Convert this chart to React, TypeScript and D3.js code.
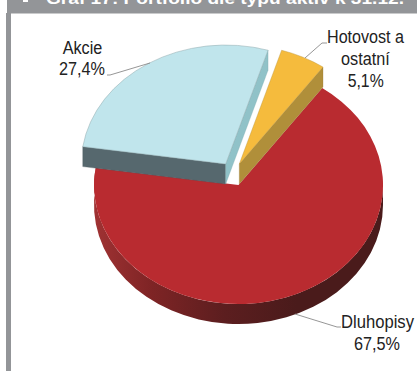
import React from "react";
import * as d3 from "d3";

const categories = ["Dluhopisy", "Akcie", "Hotovost a", "ostatní"];
const shares = [67.5, 27.4, 5.1];
const shareLabels = ["67,5%", "27,4%", "5,1%"];
const heading = "Graf 17: Portfolio dle typu aktiv k 31.12.";

const W = 417;
const H = 371;
const cx = 238.5;
const cy = 185;
const rx = 144.5;
const ry = 119;
const depth = 20;
const firstAngle = (35.4 * Math.PI) / 180;

// Per-slice pull-out and face colours (top, radial wall, second radial wall)
const offsets = [
  [0, 0],
  [-12.8, -21],
  [0.8, -21],
];
const topFill = ["#b92b30", "#c0e5ec", "#f5bb3d"];
const wallFill = ["#7a2224", "#56686e", "#b08f3a"];
const innerWallFill = ["#7a2224", "#90c2c8", "#b08f3a"];

const slices = d3
  .pie<number>()
  .sort(null)
  .startAngle(firstAngle)
  .endAngle(firstAngle + 2 * Math.PI)(shares);

const unitArc = d3.arc<d3.PieArcDatum<number>>().innerRadius(0).outerRadius(1);

const rim = (a: number, ox: number, oy: number, dy = 0): [number, number] => [
  cx + ox + rx * Math.sin(a),
  cy + oy - ry * Math.cos(a) + dy,
];

const wall = (a: number, ox: number, oy: number) => {
  const p = rim(a, ox, oy);
  const ax = cx + ox;
  const ay = cy + oy;
  return `M${ax},${ay}L${p[0]},${p[1]}L${p[0]},${p[1] + depth}L${ax},${ay + depth}Z`;
};

// Outer skirt of the large slice, from the right-hand extreme round to its end
const skirt = (a0: number, a1: number, ox: number, oy: number) => {
  const s = rim(a0, ox, oy);
  const e = rim(a1, ox, oy);
  const large = a1 - a0 > Math.PI ? 1 : 0;
  return (
    `M${s[0]},${s[1]}A${rx},${ry} 0 ${large} 1 ${e[0]},${e[1]}` +
    `L${e[0]},${e[1] + depth}A${rx},${ry} 0 ${large} 0 ${s[0]},${s[1] + depth}Z`
  );
};

const sectorPath = (i: number) => unitArc(slices[i]) as string;

const labelFont = "'Liberation Sans', Arial, sans-serif";

// Label lines are set tall and slightly narrowed to a fixed measure
const Label = ({ x, y, w, children }: { x: number; y: number; w: number; children: string }) => (
  <text x={x} y={y} textLength={w} lengthAdjust="spacingAndGlyphs">
    {children}
  </text>
);

export default function App() {
  const red = slices[0];
  return (
    <svg
      width={W}
      height={H}
      viewBox={`0 0 ${W} ${H}`}
      style={{ position: "fixed", left: 0, top: 0, background: "#fff" }}
    >
      <defs>
        <linearGradient id="skirtShade" gradientUnits="userSpaceOnUse" x1={94} x2={383} y1={0} y2={0}>
          <stop offset="0" stopColor="#a03233" />
          <stop offset="0.2" stopColor="#7e2425" />
          <stop offset="0.45" stopColor="#5c1e1f" />
          <stop offset="0.7" stopColor="#4a1b1b" />
          <stop offset="1" stopColor="#4a1b1b" />
        </linearGradient>
      </defs>

      <rect x={7} y={0} width={W - 7} height={13.5} fill="#939598" />
      <rect x={6} y={13} width={5} height={H - 13} fill="#939598" />
      <rect x={23} y={0} width={5} height={2} fill="#fff" />
      <text
        x={46}
        y={4}
        fontFamily={labelFont}
        fontWeight="bold"
        fontSize={17}
        fill="#fff"
        textLength={358}
        lengthAdjust="spacingAndGlyphs"
      >
        {heading}
      </text>

      {/* Large slice: skirt first, then its top face */}
      <path d={skirt(Math.PI / 2, red.endAngle, 0, 0)} fill="url(#skirtShade)" />
      <path
        d={sectorPath(0)}
        transform={`translate(${cx},${cy}) scale(${rx},${ry})`}
        fill={topFill[0]}
      />

      {/* Pulled-out slices with their visible radial walls */}
      <path d={wall(slices[1].startAngle, offsets[1][0], offsets[1][1])} fill={wallFill[1]} stroke="#46565b" strokeWidth={0.3} />
      <path d={wall(slices[1].endAngle, offsets[1][0], offsets[1][1])} fill={innerWallFill[1]} stroke="#7fa9ae" strokeWidth={0.3} />
      <path
        d={sectorPath(1)}
        transform={`translate(${cx + offsets[1][0]},${cy + offsets[1][1]}) scale(${rx},${ry})`}
        fill={topFill[1]}
        stroke="#8fa9ad"
        strokeWidth={0.5}
        vectorEffect="non-scaling-stroke"
      />
      <path d={wall(slices[2].endAngle, offsets[2][0], offsets[2][1])} fill={wallFill[2]} stroke="#947831" strokeWidth={0.3} />
      <path
        d={sectorPath(2)}
        transform={`translate(${cx + offsets[2][0]},${cy + offsets[2][1]}) scale(${rx},${ry})`}
        fill={topFill[2]}
        stroke="#b8923a"
        strokeWidth={0.4}
        vectorEffect="non-scaling-stroke"
      />

      {/* Leader lines */}
      <g fill="none" stroke="#8a8a8a" strokeWidth={0.9}>
        <polyline points="107,75 110,75 150,63" />
        <polyline points="327,43 322,43 305,58" />
        <polyline points="295,314 337,327 341,327" />
      </g>

      {/* Data labels */}
      <g fontFamily={labelFont} fontSize={17.5} fill="#222">
        <Label x={62.7} y={53.5} w={39.6}>{categories[1]}</Label>
        <Label x={59} y={75} w={46}>{shareLabels[1]}</Label>
        <Label x={327} y={43} w={77}>{categories[2]}</Label>
        <Label x={341} y={64.5} w={48.7}>{categories[3]}</Label>
        <Label x={347.7} y={87} w={36}>{shareLabels[2]}</Label>
        <Label x={341} y={328} w={73}>{categories[0]}</Label>
        <Label x={354} y={349.5} w={46}>{shareLabels[0]}</Label>
      </g>
    </svg>
  );
}
